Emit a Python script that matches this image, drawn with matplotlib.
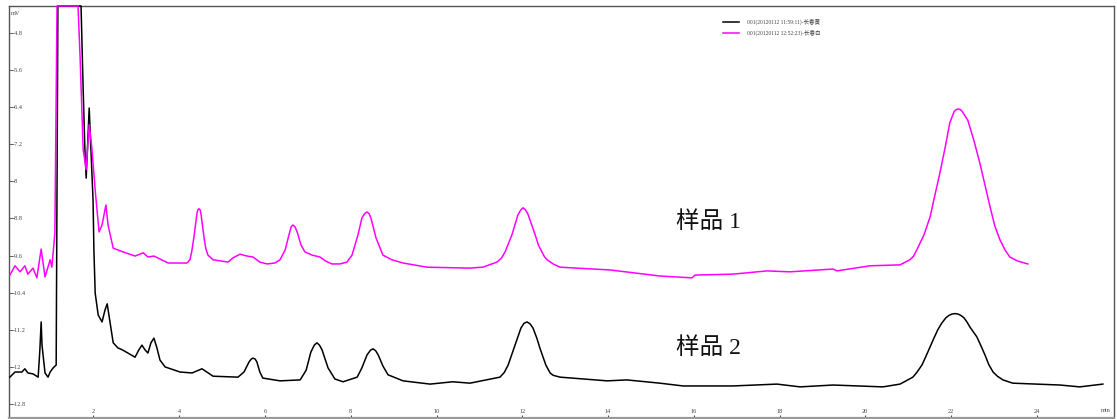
import matplotlib
matplotlib.use("Agg")
import matplotlib.pyplot as plt
from matplotlib.font_manager import FontProperties

# ---------------- data: (time in min, signal in mV) ----------------
Y_SAT = -4.22  # detector saturation (top of scale)

sample1_points = [
    (0.05, -10.02), (0.17, -9.82), (0.29, -9.95), (0.40, -9.82), (0.47, -10.00), (0.59, -9.87),
    (0.68, -10.08), (0.78, -9.46), (0.87, -10.06), (0.99, -9.69), (1.03, -9.85), (1.10, -9.11),
    (1.15, Y_SAT), (1.64, Y_SAT), (1.69, -5.38), (1.73, -6.46), (1.76, -7.32), (1.83, -7.75),
    (1.90, -6.78), (1.96, -7.26), (2.04, -8.19), (2.11, -8.90), (2.13, -9.09), (2.20, -8.94),
    (2.29, -8.51), (2.34, -8.94), (2.46, -9.44), (2.69, -9.52), (2.97, -9.61), (3.16, -9.54),
    (3.27, -9.63), (3.41, -9.61), (3.74, -9.76), (4.18, -9.76), (4.25, -9.69), (4.29, -9.52),
    (4.34, -9.22), (4.41, -8.72), (4.43, -8.62), (4.46, -8.59), (4.49, -8.62), (4.51, -8.72),
    (4.58, -9.22), (4.62, -9.45), (4.67, -9.59), (4.79, -9.69), (5.14, -9.74), (5.25, -9.65),
    (5.42, -9.57), (5.58, -9.61), (5.72, -9.63), (5.88, -9.74), (6.05, -9.78), (6.23, -9.76),
    (6.35, -9.69), (6.47, -9.48), (6.51, -9.33), (6.56, -9.15), (6.61, -8.98), (6.65, -8.94),
    (6.70, -8.98), (6.75, -9.09), (6.84, -9.37), (6.93, -9.52), (7.10, -9.59), (7.28, -9.63),
    (7.42, -9.72), (7.56, -9.78), (7.75, -9.78), (7.91, -9.74), (8.03, -9.59), (8.17, -9.15),
    (8.26, -8.79), (8.33, -8.69), (8.38, -8.66), (8.43, -8.70), (8.47, -8.79), (8.59, -9.22),
    (8.75, -9.59), (8.96, -9.69), (9.22, -9.76), (9.78, -9.85), (10.78, -9.87), (11.08, -9.85),
    (11.41, -9.74), (11.52, -9.65), (11.60, -9.52), (11.76, -9.15), (11.90, -8.72), (11.97, -8.61),
    (12.02, -8.57), (12.07, -8.61), (12.13, -8.70), (12.30, -9.15), (12.38, -9.38), (12.46, -9.52),
    (12.52, -9.63), (12.58, -9.69), (12.72, -9.78), (12.88, -9.85), (14.05, -9.91), (15.21, -10.04),
    (15.96, -10.08), (16.03, -10.02), (16.91, -10.00), (17.71, -9.93), (18.24, -9.95), (19.25, -9.89),
    (19.34, -9.93), (20.11, -9.82), (20.81, -9.80), (21.04, -9.69), (21.12, -9.62), (21.20, -9.48),
    (21.37, -9.15), (21.51, -8.77), (21.62, -8.31), (21.74, -7.82), (21.86, -7.28), (21.97, -6.74),
    (22.07, -6.50), (22.11, -6.46), (22.16, -6.44), (22.21, -6.45), (22.25, -6.48), (22.39, -6.68),
    (22.53, -7.11), (22.67, -7.60), (22.79, -8.08), (22.91, -8.55), (23.02, -8.96), (23.14, -9.26),
    (23.26, -9.48), (23.37, -9.63), (23.56, -9.72), (23.79, -9.78),
]

sample2_points = [
    (0.05, -12.22), (0.17, -12.11), (0.33, -12.11), (0.40, -12.04), (0.47, -12.13), (0.59, -12.15),
    (0.71, -12.22), (0.75, -11.63), (0.78, -11.03), (0.80, -11.53), (0.87, -12.13), (0.94, -12.22),
    (0.99, -12.11), (1.06, -12.02), (1.13, -11.96), (1.17, Y_SAT), (1.71, Y_SAT), (1.76, -6.03),
    (1.80, -7.32), (1.83, -7.93), (1.90, -6.42), (1.94, -7.32), (1.99, -8.40), (2.01, -9.48),
    (2.04, -10.41), (2.11, -10.88), (2.20, -11.03), (2.27, -10.77), (2.32, -10.64), (2.36, -10.88),
    (2.46, -11.48), (2.57, -11.59), (2.67, -11.63), (2.97, -11.79), (3.06, -11.63), (3.13, -11.53),
    (3.20, -11.63), (3.27, -11.70), (3.34, -11.48), (3.41, -11.38), (3.48, -11.59), (3.55, -11.85),
    (3.67, -12.00), (4.02, -12.11), (4.30, -12.13), (4.53, -12.04), (4.79, -12.20), (5.37, -12.22),
    (5.51, -12.11), (5.63, -11.89), (5.68, -11.83), (5.72, -11.81), (5.77, -11.83), (5.81, -11.89),
    (5.88, -12.11), (5.95, -12.24), (6.35, -12.30), (6.82, -12.28), (6.96, -12.07), (7.07, -11.68),
    (7.15, -11.53), (7.21, -11.48), (7.27, -11.53), (7.33, -11.63), (7.47, -12.02), (7.63, -12.26),
    (7.82, -12.32), (8.15, -12.22), (8.26, -12.02), (8.38, -11.74), (8.46, -11.64), (8.52, -11.61),
    (8.58, -11.65), (8.64, -11.74), (8.75, -11.98), (8.87, -12.17), (9.22, -12.30), (9.85, -12.37),
    (10.38, -12.32), (10.78, -12.35), (11.48, -12.22), (11.58, -12.12), (11.67, -11.96), (11.83, -11.53),
    (11.97, -11.16), (12.04, -11.06), (12.11, -11.03), (12.18, -11.07), (12.25, -11.16), (12.34, -11.38),
    (12.41, -11.59), (12.55, -11.96), (12.65, -12.13), (12.72, -12.18), (12.88, -12.22), (13.98, -12.30),
    (14.44, -12.28), (15.21, -12.35), (15.75, -12.41), (16.91, -12.41), (17.94, -12.37), (18.48, -12.43),
    (19.25, -12.39), (20.41, -12.43), (20.81, -12.37), (21.11, -12.22), (21.20, -12.12), (21.32, -11.96),
    (21.41, -11.78), (21.51, -11.57), (21.60, -11.38), (21.69, -11.20), (21.78, -11.06), (21.88, -10.94),
    (21.95, -10.89), (22.02, -10.86), (22.09, -10.85), (22.16, -10.86), (22.23, -10.89), (22.30, -10.94),
    (22.37, -11.03), (22.44, -11.14), (22.60, -11.35), (22.70, -11.55), (22.79, -11.74), (22.88, -11.95),
    (22.98, -12.11), (23.08, -12.20), (23.21, -12.28), (23.44, -12.35), (24.54, -12.39), (25.00, -12.43),
    (25.54, -12.37),
]

label_sample2 = "001(20120112 11:59:11)-长春黄"
label_sample1 = "001(20120112 12:52:23)-长春白"
x_ticks = [2, 4, 6, 8, 10, 12, 14, 16, 18, 20, 22, 24]
y_ticks = [-4.8, -5.6, -6.4, -7.2, -8.0, -8.8, -9.6, -10.4, -11.2, -12.0, -12.8]
y_tick_labels = ["-4.8", "-5.6", "-6.4", "-7.2", "-8", "-8.8", "-9.6", "-10.4", "-11.2", "-12", "-12.8"]
annot_1 = "样品 1"
annot_2 = "样品 2"

t1 = [p[0] for p in sample1_points]
v1 = [p[1] for p in sample1_points]
t2 = [p[0] for p in sample2_points]
v2 = [p[1] for p in sample2_points]

# ---------------- figure ----------------
W, H = 1117, 419
fig = plt.figure(figsize=(W / 100, H / 100), dpi=100)
ax = fig.add_axes([9 / W, 1.5 / H, (1114 - 9) / W, (417.5 - 6) / H])

serif_cjk = ["Liberation Serif", "Noto Sans CJK SC"]

l2, = ax.plot(t2, v2, color="black", lw=1.1, clip_on=False, zorder=3,
              solid_joinstyle="round")
l1, = ax.plot(t1, v1, color="#ff00ff", lw=1.1, clip_on=False, zorder=4,
              solid_joinstyle="round")

ax.set_xlim(0.03, 25.8)
ax.set_ylim(-13.09, Y_SAT)

ax.set_xticks(x_ticks)
ax.set_xticklabels([str(v) for v in x_ticks])
ax.set_yticks(y_ticks)
ax.set_yticklabels(y_tick_labels)

ax.tick_params(axis="y", direction="in", length=3, width=0.6, pad=-2.5,
               labelsize=4.5, colors="#444")
ax.tick_params(axis="x", direction="inout", length=4, width=0.8, pad=-4.5,
               labelsize=4.5, colors="#444")
for lab in ax.get_yticklabels():
    lab.set_horizontalalignment("left")
    lab.set_family("Liberation Serif")
for lab in ax.get_xticklabels():
    lab.set_verticalalignment("bottom")
    lab.set_family("Liberation Serif")

for s in ["top", "left", "right"]:
    ax.spines[s].set_color("#555")
    ax.spines[s].set_linewidth(1.0)
ax.spines["bottom"].set_color("#999")
ax.spines["bottom"].set_linewidth(1.6)

ax.text(0.002, 0.987, "mV", transform=ax.transAxes, ha="left", va="top",
        fontsize=4.5, family="Liberation Serif", color="#444")
ax.text(0.997, 0.012, "min", transform=ax.transAxes, ha="right", va="bottom",
        fontsize=4.5, family="Liberation Serif", color="#444")

ax.text(15.58, -8.875, annot_1, ha="left", va="center", fontsize=17,
        family=serif_cjk, color="#111")
ax.text(15.58, -11.591, annot_2, ha="left", va="center", fontsize=17,
        family=serif_cjk, color="#111")

leg = ax.legend([l2, l1], [label_sample2, label_sample1],
                loc="upper left", bbox_to_anchor=(723 / W, 1 - 18.5 / H),
                bbox_transform=fig.transFigure, frameon=False,
                prop=FontProperties(family=serif_cjk, size=4),
                handlelength=2.9, handletextpad=1.4, labelspacing=0.9,
                borderpad=0, borderaxespad=0)
for txt in leg.get_texts():
    txt.set_color("#444")

fig.savefig("out.png", dpi=100)
